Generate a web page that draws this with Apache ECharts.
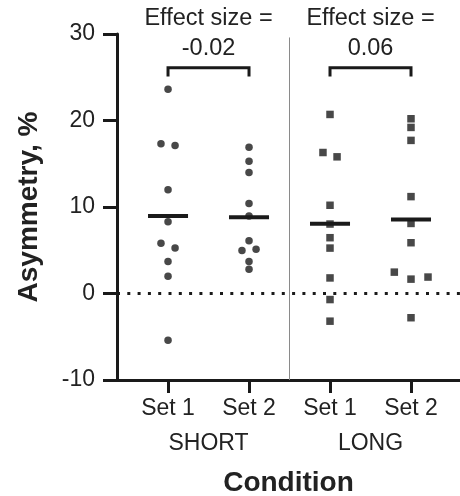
<!DOCTYPE html>
<html>
<head>
<meta charset="utf-8">
<script src="https://cdn.jsdelivr.net/npm/echarts@6/dist/echarts.min.js"></script>
<style>
  html, body { margin: 0; padding: 0; background: #fff; }
  #chart { width: 460px; height: 496px; }
</style>
</head>
<body>
<div id="chart"></div>
<script>
// ---- data ----
const setLabels = ['Set 1', 'Set 2', 'Set 1', 'Set 2'];
const conditionLabels = ['SHORT', 'LONG'];
const yTicks = [-10, 0, 10, 20, 30];

const shortSet1 = [23.6, 17.3, 17.1, 12.0, 8.3, 5.8, 5.25, 3.7, 2.0, -5.4];
const shortSet1Jitter = [0, -0.087, 0.087, 0, 0, -0.087, 0.087, 0, 0, 0];
const shortSet2 = [16.9, 15.3, 14.0, 10.4, 8.96, 6.1, 4.98, 5.13, 3.7, 2.8];
const shortSet2Jitter = [0, 0, 0, 0, 0, 0, -0.087, 0.087, 0, 0];
const longSet1 = [20.7, 16.3, 15.8, 10.2, 8.03, 6.45, 5.25, 1.8, -0.7, -3.2];
const longSet1Jitter = [0, -0.087, 0.087, 0, 0, 0, 0, 0, 0, 0];
const longSet2 = [20.2, 19.2, 17.7, 11.2, 8.1, 5.87, 2.47, 1.66, 1.9, -2.8];
const longSet2Jitter = [0, 0, 0, 0, 0, 0, -0.206, 0, 0.21, 0];

const effectSizes = ['-0.02', '0.06'];
const effectTitle = 'Effect size =';
const bracketY = 26.1;
const bracketLegY = 25.1;

// ---- build ----
const FONT = "'Liberation Sans', Arial, sans-serif";
const INK = '#1a1a1a';
const groups = [
  { pos: 1, vals: shortSet1, jit: shortSet1Jitter, symbol: 'circle' },
  { pos: 2, vals: shortSet2, jit: shortSet2Jitter, symbol: 'circle' },
  { pos: 3, vals: longSet1, jit: longSet1Jitter, symbol: 'rect' },
  { pos: 4, vals: longSet2, jit: longSet2Jitter, symbol: 'rect' }
];
const mean = a => a.reduce((s, v) => s + v, 0) / a.length;

const scatterSeries = groups.map(g => ({
  type: 'scatter',
  symbol: g.symbol,
  symbolSize: 7.5,
  itemStyle: { color: INK },
  data: g.vals.map((v, i) => [g.pos + g.jit[i], v]),
  z: 3
}));

const meanSeries = {
  type: 'custom',
  data: groups.map(g => [g.pos, mean(g.vals)]),
  renderItem: (params, api) => {
    const x = api.value(0), y = api.value(1);
    const p1 = api.coord([x - 0.247, y]);
    const p2 = api.coord([x + 0.247, y]);
    return { type: 'line', shape: { x1: p1[0], y1: p1[1], x2: p2[0], y2: p2[1] },
      style: { stroke: INK, lineWidth: 4 } };
  },
  z: 4
};

const annotSeries = {
  type: 'custom',
  clip: false,
  data: effectSizes.map((e, i) => [1 + 2 * i, 2 + 2 * i]),
  renderItem: (params, api) => {
    const a = api.value(0), b = api.value(1);
    const pa = api.coord([a, bracketLegY]);
    const pb = api.coord([b, bracketLegY]);
    const ta = api.coord([a, bracketY]);
    const tb = api.coord([b, bracketY]);
    const mid = (a + b) / 2;
    const t1 = api.coord([mid, 31.8]);
    const t2 = api.coord([mid, 28.35]);
    return { type: 'group', children: [
      { type: 'polyline', shape: { points: [pa, ta, tb, pb] },
        style: { stroke: INK, lineWidth: 3, fill: null } },
      { type: 'text', x: t1[0], y: t1[1], style: { text: effectTitle, font: '23.5px ' + FONT,
        fill: '#222', align: 'center', verticalAlign: 'middle' } },
      { type: 'text', x: t2[0], y: t2[1], style: { text: effectSizes[params.dataIndex], font: '23.5px ' + FONT,
        fill: '#222', align: 'center', verticalAlign: 'middle' } }
    ] };
  }
};

// zero dotted line + separator via markLine
scatterSeries[0].markLine = {
  silent: true,
  symbol: 'none',
  label: { show: false },
  animation: false,
  data: [
    { yAxis: 0, lineStyle: { type: [3, 7.3], width: 3, color: INK, cap: 'butt' } },
    [ { coord: [2.5, 29.6], lineStyle: { type: 'solid', width: 1, color: '#8a8a8a' } }, { coord: [2.5, -10] } ]
  ]
};

const option = {
  animation: false,
  backgroundColor: '#ffffff',
  textStyle: { fontFamily: FONT },
  grid: { left: 117, right: 0, top: 34, bottom: 116, containLabel: false, outerBoundsMode: 'none' },
  xAxis: [
    {
      type: 'value', min: 0.37, max: 4.605,
      splitLine: { show: false },
      axisLine: { onZero: false, lineStyle: { color: INK, width: 3 } },
      axisTick: { customValues: [1, 2, 3, 4], length: 13, lineStyle: { color: INK, width: 3 } },
      axisLabel: { customValues: [1, 2, 3, 4], formatter: v => setLabels[Math.round(v) - 1],
        fontSize: 23, color: '#222', margin: 17, fontFamily: FONT },
      name: 'Condition', nameLocation: 'middle', nameGap: 89.5,
      nameTextStyle: { fontSize: 28, fontWeight: 'bold', color: '#222', fontFamily: FONT, verticalAlign: 'top' }
    },
    {
      type: 'value', min: 0.37, max: 4.605, position: 'bottom',
      splitLine: { show: false },
      axisLine: { show: false, onZero: false }, axisTick: { show: false },
      axisLabel: { customValues: [1.5, 3.5], formatter: v => conditionLabels[v < 2.5 ? 0 : 1],
        fontSize: 23, color: '#222', margin: 52.5, fontFamily: FONT }
    }
  ],
  yAxis: {
    type: 'value', min: -10, max: 30, interval: 10,
    splitLine: { show: false },
    axisLine: { show: true, onZero: false, lineStyle: { color: INK, width: 3 } },
    axisTick: { show: true, length: 14, lineStyle: { color: INK, width: 3 } },
    axisLabel: { fontSize: 23, color: '#222', margin: 22, fontFamily: FONT,
      customValues: yTicks },
    name: 'Asymmetry, %', nameLocation: 'middle', nameGap: 74,
    nameTextStyle: { fontSize: 28, fontWeight: 'bold', color: '#222', fontFamily: FONT }
  },
  series: [...scatterSeries, meanSeries, annotSeries]
};

const chart = echarts.init(document.getElementById('chart'), null, { renderer: 'canvas' });
chart.setOption(option);
</script>
</body>
</html>
